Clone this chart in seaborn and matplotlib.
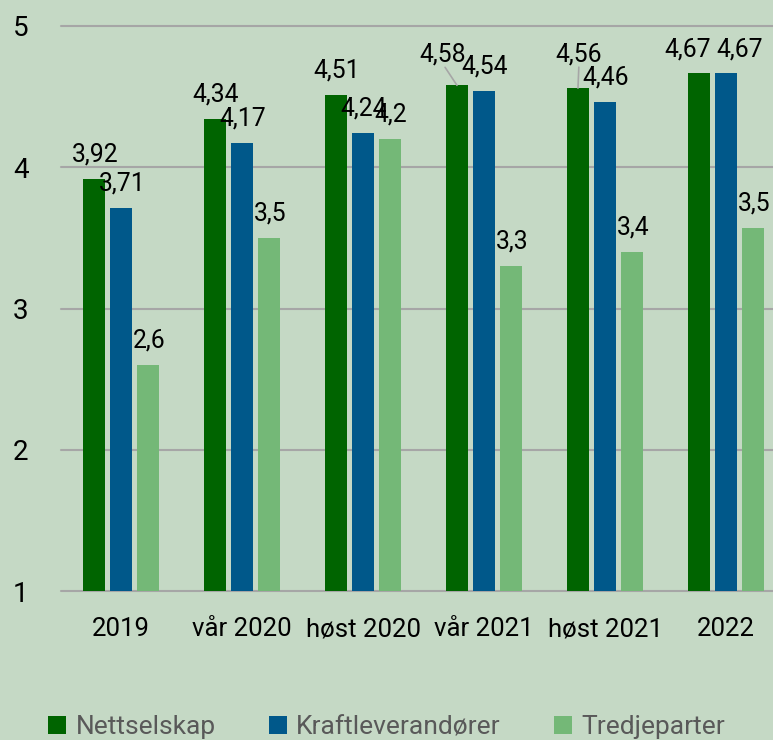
import matplotlib
matplotlib.use("Agg")
import matplotlib.pyplot as plt
from matplotlib.patches import Patch
import seaborn as sns
import pandas as pd

# ---- data ----
categories = ["2019", "vår 2020", "høst 2020", "vår 2021", "høst 2021", "2022"]
series = ["Nettselskap", "Kraftleverandører", "Tredjeparter"]
nettselskap = [3.92, 4.34, 4.51, 4.58, 4.56, 4.67]
kraftleverandorer = [3.71, 4.17, 4.24, 4.54, 4.46, 4.67]
tredjeparter = [2.6, 3.5, 4.2, 3.3, 3.4, 3.57]
labels_nettselskap = ["3,92", "4,34", "4,51", "4,58", "4,56", "4,67"]
labels_kraft = ["3,71", "4,17", "4,24", "4,54", "4,46", "4,67"]
labels_tredje = ["2,6", "3,5", "4,2", "3,3", "3,4", "3,5"]
y_ticks = [1, 2, 3, 4, 5]

colors = ["#006400", "#00588A", "#74B877"]
bg = "#C5D9C5"
grid_c = "#A6A6A6"

sns.set_style("white")
plt.rcParams["font.family"] = ["Roboto", "DejaVu Sans"]

df = pd.DataFrame({
    "category": categories * 3,
    "value": nettselskap + kraftleverandorer + tredjeparter,
    "series": [series[0]] * 6 + [series[1]] * 6 + [series[2]] * 6,
})
value_labels = [labels_nettselskap, labels_kraft, labels_tredje]

W, H = 773, 740
fig = plt.figure(figsize=(W / 100, H / 100), dpi=100, facecolor=bg)
ax = fig.add_axes([60.5 / W, 1 - 591 / H, 726 / W, 565 / H])
ax.set_facecolor(bg)

sns.barplot(data=df, x="category", y="value", hue="series", order=categories,
            hue_order=series, palette=colors, width=0.67, gap=0.185,
            saturation=1, legend=False, ax=ax, errorbar=None, linewidth=0)

ax.set_ylim(1, 5)
ax.set_xlim(-0.5, 5.5)
ax.set_yticks(y_ticks)
ax.set_yticklabels([str(t) for t in y_ticks])
ax.set_xlabel("")
ax.set_ylabel("")
for s in ax.spines.values():
    s.set_visible(False)
ax.grid(False)
for t in y_ticks:
    ax.axhline(t, color=grid_c, lw=1.5, zorder=0.5, clip_on=False)
ax.set_axisbelow(True)
ax.tick_params(axis="y", length=0, pad=23, labelsize=20, labelcolor="black")
ax.tick_params(axis="x", length=0, pad=19, labelsize=18.5, labelcolor="black")

# special label placements (pixel offsets: dx, baseline up)
special = {
    (0, 3): (-14, 24, True),
    (0, 4): (1, 27, True),
    (0, 5): (-11, 16.5, False),
    (1, 5): (14, 16.5, False),
}
for i, cont in enumerate(ax.containers):
    for j, bar in enumerate(cont):
        x = bar.get_x() + bar.get_width() / 2
        y = bar.get_height()
        dx, dy, leader = special.get((i, j), (1, 17.5, False))
        txt = value_labels[i][j]
        ax.annotate(txt, (x, y), xytext=(dx, dy), textcoords="offset pixels",
                    ha="center", va="baseline", fontsize=17.8, color="black",
                    annotation_clip=False)
        if leader:
            ax.annotate("", (x, y), xytext=(dx * 0.85, dy - 6),
                        textcoords="offset pixels",
                        arrowprops=dict(arrowstyle="-", color=grid_c, lw=1.2,
                                        shrinkA=0, shrinkB=0),
                        annotation_clip=False)

handles = [Patch(facecolor=c, edgecolor="none") for c in colors]
fig.legend(handles, series, loc="center", bbox_to_anchor=(0.5, 1 - 727 / H),
           ncol=3, frameon=False, fontsize=19, labelcolor="#595959",
           handlelength=0.7, handleheight=0.7, handletextpad=0.35,
           columnspacing=2.0, borderaxespad=0, borderpad=0)

fig.savefig("out.png", dpi=100, facecolor=bg)
